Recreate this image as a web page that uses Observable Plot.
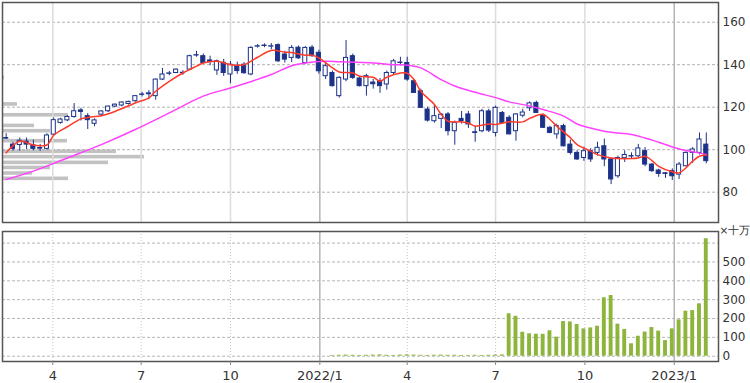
<!DOCTYPE html>
<html><head><meta charset="utf-8">
<script src="https://cdn.jsdelivr.net/npm/d3@7"></script>
<script src="https://cdn.jsdelivr.net/npm/@observablehq/plot@0.6"></script>
<style>
body{margin:0;background:#fff;}
#chart{position:relative;width:750px;height:383px;overflow:hidden;background:#fff;font-family:"DejaVu Sans",Verdana,sans-serif;}
#chart svg{position:absolute;left:0;}
</style></head><body><div id="chart"></div>
<script>
// ---- data (weekly candles, Fridays from 2021-02-12) ----
const firstWeek = "2021-02-12";
const open = [105.2,102.4,102.2,103.8,102,100.8,100.4,107.1,112.6,113.8,
115.4,118.5,115.8,112.2,116.5,118.1,120.3,120.8,121.5,122.8,
125.8,126.5,125.2,133,135.7,136.1,136,137.7,144.3,144,
142,137.3,140.9,135.4,139.5,140,135.4,148.5,148.8,148.5,
149.2,144.8,143.2,148,140.8,148,145.6,134.6,136.1,125.2,
133,144,133.5,129.9,131.6,132.2,130.7,136.1,140.8,140.8,
132.2,127.5,118.9,113.4,114.5,116.6,108.7,114.5,116.6,108.2,
108.7,118,107.9,117.3,115,108.7,116,119.5,122,116.1,
110.3,107.2,111.1,102.4,98.5,96.1,99.3,98.5,101.6,95.4,
87.5,96,96.8,96.9,99.3,93,90.2,88.9,89.9,88.3,
92.2,98.5,98.5,102.4];
const high = [107.5,103.5,105.5,105.5,104.5,102.5,107.5,115,114.8,116,
121.7,119.5,117,114.5,118.3,120.5,121.5,122.5,122.8,125.5,
127,127.8,133.3,138.2,136.8,138,137.2,144.5,146.3,145,
144,142.2,142.5,141.5,141.2,141,148.5,149.5,149.8,150,
149.8,146.3,149,148.8,148.5,149,146.8,141,137,134.3,
151.4,145,134.5,135.5,133,133.5,137,142.5,143.5,143.5,
133,128.5,120,121,117,117.5,113.5,118,118,111,
119,119,120.5,118,116,117,119,122.5,122.8,116.8,
111,112,112,104.5,99.5,101.2,100.5,103.5,105,96,
97,99.5,98.5,102.5,101,93.5,90.8,89.2,91,94,
99,101,107.9,107.9];
const low = [104.8,99.3,99.3,100,99.5,99.2,99.8,106.5,112,113.2,
114.8,113.5,109.5,110.8,115.5,117.5,119.8,120.2,121,122.3,
124.8,123.5,123.3,132.5,134.8,135.8,135,137.2,143.5,140.5,
139.5,135,134.5,131,135.5,135.5,134.8,147.8,148,147,
141,140.8,141,142.5,140,143.5,135.5,133,129.5,124.3,
132,133,129.5,125.2,128.5,126.5,128,135,139.5,132.2,
126.5,119.5,113,112.5,110,106.5,102.1,112,110,103.5,
108,108,106,112,107,104,115,118,117,110,
107.5,105,101.3,97.5,95,94.5,94,97,92,83.6,
86.5,94,95.5,96.2,92,89.3,87,86.5,85.5,86,
92,93.5,97.5,93.4];
const close = [105.5,100.4,104.2,102.4,100.4,100.5,106.7,113.9,114.2,115.4,
118.1,117.8,113.9,113.8,118,120.3,121.2,122.2,122.5,125.2,
126,126.1,133,135.4,135.9,137.7,136.2,144,144.5,140.8,
141.3,141.6,136.1,140,137,136,147.9,148.7,149,148.7,
141.6,142.4,147.9,143,147.9,144,136.9,139.3,129.9,133.8,
143.2,133.8,129.9,134.6,130.8,129.9,136.1,141.6,141,133,
126.7,119.7,113.7,115.8,116.5,108.7,112.6,113.5,111.9,107.9,
118.1,109,119.7,112.6,107.2,116.6,117.5,121.8,117.3,110.3,
107.9,111.1,101.6,98.5,95.4,99.3,95.4,100.9,95.4,86,
96.1,97.5,97,100.6,93,89.9,88.6,88.6,87.5,93,
98.5,100.1,104.8,94.6];
// volume (x 十万)
const volume = [0,0,0,0,0,0,0,0,0,0, 0,0,0,0,0,0,0,0,0,0,
0,0,0,0,0,0,0,0,0,0, 0,0,0,0,0,0,0,0,0,0,
0,0,0,0,0,0,0,0,4,5, 6,5,4,5,6,7,5,4,6,7,
6,5,4,5,6,5,5,4,4,5, 4,5,6,7,225,212,127,119,117,116,
135,101,184,182,168,145,150,159,310,322, 170,142,66,106,128,152,133,83,145,193,
239,242,278,623];
// moving averages (candle index -> value)
const redIdx = [0,2,4,6,7,9,11,12,14,16,19,21,22,24,26,28,29,31,33,35,36,37,39,41,42,44,45,46,48,49,51,52,54,55,56,58,59,60,61,63,64,65,67,68,69,71,72,74,76,77,79,80,81,83,84,86,87,89,90,92,93,94,95,96,98,99,100,101,102,103];
const redVal = [98.5,104,102.2,102.2,106.8,110.8,114.5,115.2,116,118,122,124.4,127.5,132.2,136.1,139.3,140.8,141.6,140,140,141.6,143.5,146.7,145.9,145.7,144.5,144.5,143.2,138.5,136.6,136.1,134.6,134.1,132.2,134.1,136.1,136,133,127.5,121.3,116.6,113.4,113.1,112.6,111.1,112.1,111.9,113.1,113.1,114.7,116.6,114.2,111.1,105.6,102.4,99.3,97.7,96.1,95.8,95.8,96.1,96.9,94.9,92.2,89.6,89.1,91.4,94.6,96.9,97.5];
const magIdx = [0,4,9,14,19,24,29,33,35,39,42,44,47,49,54,57,59,61,64,66,69,72,74,77,79,82,84,87,89,92,94,96,99,101,103];
const magVal = [86,89.9,96.1,102.4,109.5,117.3,125.2,129,131,135.4,139.5,140.8,141.6,141.4,140.8,140,139.8,138.5,133,130,127,124.5,122.5,120.6,118.9,115.8,112.1,109.4,108.2,107.2,105.5,103.5,100.3,99,97.8];
// volume-by-price profile (price level -> relative volume)
const profPrice = [133.8,121.3,116.2,111.2,108.7,104,99,96.5,93.8,91.4,88.8,86.3];
const profVol = [2,15,66,32,48,65,114,142,106,48,30,66];
// axes
const priceTicks = [80,100,120,140,160];
const volTicks = [0,100,200,300,400,500];
const volGrid = [0,100,200,300,400,500,600];
const tickDates = ["2021-04-01","2021-07-01","2021-10-01","2022-01-01","2022-04-01","2022-07-01","2022-10-01","2023-01-01"];
const tickLabels = ["4","7","10","2022/1","4","7","10","2023/1"];
const yearTicks = ["2022-01-01","2023-01-01"];
const volUnit = "×十万";

// ---- build ----
const DAY = 864e5;
const off = (d, k) => new Date(+d + k * DAY);
const t0 = new Date(firstWeek + "T00:00Z");
const dates = open.map((_, i) => off(t0, 7 * i));
const candles = dates.map((d, i) => ({date: d, open: open[i], high: high[i], low: low[i], close: close[i]}));
const up = candles.filter(c => c.close >= c.open);
const down = candles.filter(c => c.close < c.open);
const red = redIdx.map((k, j) => ({date: dates[k], v: redVal[j]}));
const mag = magIdx.map((k, j) => ({date: dates[k], v: magVal[j]}));
const vols = dates.map((d, i) => ({date: d, v: volume[i]})).filter(d => d.v > 0);
const tDates = tickDates.map(s => new Date(s + "T00:00Z"));
const yDates = yearTicks.map(s => new Date(s + "T00:00Z"));
const qDates = tDates.filter(d => !yDates.some(y => +y === +d));
const labelOf = new Map(tDates.map((d, i) => [+d, tickLabels[i]]));
const xDomain = [new Date("2021-02-08T05:00Z"), new Date("2023-02-15T14:00Z")];
const priceDomain = [65.74, 169.27];
const navy = "#1c3289";
const font = "DejaVu Sans, Verdana, sans-serif";
const common = {width: 750, marginLeft: 2, marginRight: 32,
  style: {background: "transparent", overflow: "visible", fontFamily: font, color: "#333"}};

const root = document.getElementById("chart");

// volume-by-price profile (underneath)
const prof = Plot.plot({...common, height: 226, marginTop: 2, marginBottom: 4,
  x: {domain: [0, 716], axis: null},
  y: {domain: priceDomain, axis: null},
  marks: [
    Plot.rect(profPrice.map((p, i) => ({p, v: profVol[i]})), {x1: 0, x2: "v", y1: d => d.p - 0.85, y2: d => d.p + 0.85, fill: "#c2c2c2"})
  ]});
prof.style.top = "0px";
root.appendChild(prof);

// price panel
const price = Plot.plot({...common, height: 226, marginTop: 2, marginBottom: 4,
  x: {type: "utc", domain: xDomain, axis: null},
  y: {domain: priceDomain, axis: null},
  marks: [
    Plot.ruleY(priceTicks, {stroke: "#b0b0b0", strokeDasharray: "3,2"}),
    Plot.ruleX(qDates, {stroke: "#dcdcdc", strokeWidth: 1.5}),
    Plot.ruleX(yDates, {stroke: "#b4b4b4", strokeWidth: 1.5}),
    Plot.ruleX(candles, {x: "date", y1: "low", y2: "high", stroke: navy, strokeWidth: 1}),
    Plot.rect(up, {x1: d => off(d.date, -2.1), x2: d => off(d.date, 2.1), y1: "open", y2: "close", fill: "white", stroke: navy, strokeWidth: 1}),
    Plot.rect(down, {x1: d => off(d.date, -2.1), x2: d => off(d.date, 2.1), y1: "open", y2: "close", fill: navy, stroke: navy, strokeWidth: 1}),
    Plot.line(mag, {x: "date", y: "v", stroke: "#ff40ff", strokeWidth: 1.5, curve: "catmull-rom"}),
    Plot.line(red, {x: "date", y: "v", stroke: "#ff3a2a", strokeWidth: 1.5, curve: "catmull-rom"}),
    Plot.frame({stroke: "#555", strokeWidth: 1.5}),
    Plot.axisY(priceTicks, {anchor: "right", tickSize: 0, tickPadding: 4, fontSize: 12, fill: "#333", label: null})
  ]});
price.style.top = "0px";
root.appendChild(price);

// volume panel
const vol = Plot.plot({...common, height: 163, marginTop: 11, marginBottom: 22,
  x: {type: "utc", domain: xDomain},
  y: {domain: [-28, 661.5]},
  marks: [
    Plot.ruleY(volGrid, {stroke: "#b8b8b8", strokeDasharray: "3,2"}),
    Plot.ruleX(qDates, {stroke: "#c8c8c8", strokeDasharray: "1,2"}),
    Plot.ruleX(yDates, {stroke: "#b4b4b4", strokeWidth: 1.5}),
    Plot.rect(vols, {x1: d => off(d.date, -2), x2: d => off(d.date, 2), y1: 0, y2: "v", fill: "#8db53c"}),
    Plot.frame({stroke: "#555", strokeWidth: 1.5}),
    Plot.axisY(volTicks, {anchor: "right", tickSize: 0, tickPadding: 4, fontSize: 12, fill: "#333", label: null}),
    Plot.axisX(tDates, {anchor: "bottom", tickSize: 4, tickPadding: 5, fontSize: 13, fill: "#333", stroke: "#888", tickFormat: d => labelOf.get(+d), label: null}),
    Plot.text([volUnit], {frameAnchor: "top-right", dx: 1, dy: 2, textAnchor: "start", lineAnchor: "bottom", fontSize: 10.5, fill: "#333"})
  ]});
vol.style.top = "220px";
root.appendChild(vol);
</script></body></html>
